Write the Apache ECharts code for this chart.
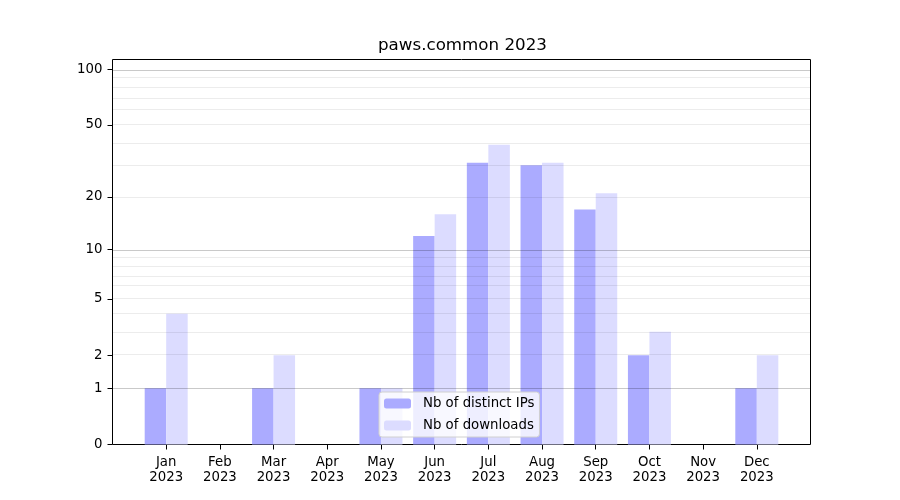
<!DOCTYPE html>
<html><head><meta charset="utf-8">
<script src="https://cdn.jsdelivr.net/npm/echarts@6/dist/echarts.min.js"></script>
<style>html,body{margin:0;padding:0;background:#fff}#c{width:900px;height:500px}</style>
</head><body><div id="c"></div>
<script>
const months = ['Jan','Feb','Mar','Apr','May','Jun','Jul','Aug','Sep','Oct','Nov','Dec'];
const year = '2023';
const distinctIPs = [1,0,1,0,1,12,31,30,17,2,0,1];
const downloads = [4,0,2,0,1,16,39,31,21,3,0,2];
const yTickValues = [0,1,2,5,10,20,50,100];
const majorGrid = [1,10,100];
const minorGrid = [2,3,4,5,6,7,8,9,20,30,40,50,60,70,80,90];
const yMaxRaw = 113;

const t = v => Math.log10(1 + v);
const FONT = 'DejaVu Sans';
const xIdx = months.map((m, i) => i);

const chart = echarts.init(document.getElementById('c'), null, {renderer: 'canvas'});
chart.setOption({
  animation: false,
  backgroundColor: '#fff',
  title: {
    text: 'paws.common ' + year,
    left: 378, top: 37, padding: 0,
    textStyle: {fontFamily: FONT, fontSize: 16.7, fontWeight: 'normal', color: '#000'}
  },
  legend: {
    data: ['Nb of distinct IPs', 'Nb of downloads'],
    orient: 'vertical',
    left: 379, top: 392,
    itemWidth: 27, itemHeight: 10, itemGap: 9,
    padding: [5, 5, 5, 5],
    backgroundColor: 'rgba(255,255,255,0.8)',
    borderColor: '#d0d0d0', borderWidth: 1, borderRadius: 3,
    textStyle: {fontFamily: FONT, fontSize: 13.3, color: '#000', padding: [0, 0, 0, 7]}
  },
  grid: {
    left: 112.5, right: 89.5, top: 59.5, bottom: 55.5,
    show: true, borderColor: '#000', borderWidth: 1, backgroundColor: 'transparent'
  },
  xAxis: {
    type: 'value', min: -1, max: 12,
    axisLine: {show: false, onZero: false},
    axisTick: {show: true, inside: false, length: 5, customValues: xIdx, lineStyle: {color: '#000'}},
    axisLabel: {
      customValues: xIdx, margin: 10,
      fontFamily: FONT, fontSize: 13.3, color: '#000', lineHeight: 15.5,
      formatter: v => months[Math.round(v)] + '\n' + year
    },
    splitLine: {show: false}
  },
  yAxis: {
    type: 'value', min: 0, max: t(yMaxRaw),
    axisLine: {show: false, onZero: false},
    axisTick: {show: true, inside: false, length: 5, customValues: yTickValues.map(t), lineStyle: {color: '#000'}},
    axisLabel: {
      customValues: yTickValues.map(t), margin: 10,
      fontFamily: FONT, fontSize: 13.3, color: '#000',
      formatter: v => String(Math.round(Math.pow(10, v) - 1))
    },
    splitLine: {show: false}
  },
  series: [
    {
      name: 'Nb of distinct IPs', type: 'bar', z: 2,
      barWidth: 21.5, barGap: '0%',
      itemStyle: {color: '#ababff', borderWidth: 0},
      emphasis: {disabled: true},
      data: distinctIPs.map((v, i) => [i, t(v)])
    },
    {
      name: 'Nb of downloads', type: 'bar', z: 2,
      barWidth: 21.5, barGap: '0%',
      itemStyle: {color: '#dcdcff', borderWidth: 0},
      emphasis: {disabled: true},
      data: downloads.map((v, i) => [i, t(v)])
    },
    {
      name: 'minorGrid', type: 'line', data: [], z: 3, silent: true,
      markLine: {
        symbol: 'none', silent: true, label: {show: false},
        lineStyle: {type: 'solid', width: 1, color: 'rgba(0,0,0,0.075)'},
        emphasis: {disabled: true},
        data: minorGrid.map(v => ({yAxis: t(v)}))
      }
    },
    {
      name: 'majorGrid', type: 'line', data: [], z: 3, silent: true,
      markLine: {
        symbol: 'none', silent: true, label: {show: false},
        lineStyle: {type: 'solid', width: 1, color: 'rgba(0,0,0,0.21)'},
        emphasis: {disabled: true},
        data: majorGrid.map(v => ({yAxis: t(v)}))
      }
    }
  ]
});
</script>
</body></html>
